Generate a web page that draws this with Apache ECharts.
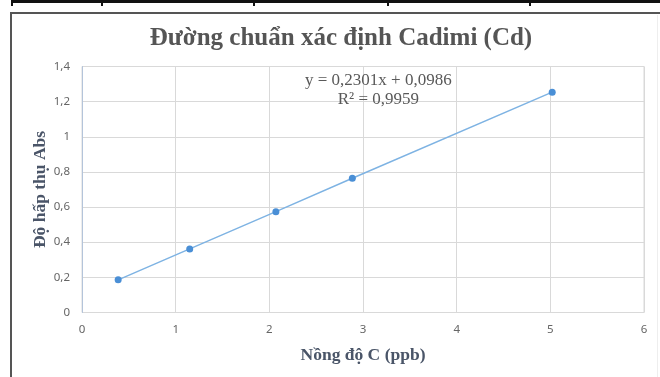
<!DOCTYPE html>
<html>
<head>
<meta charset="utf-8">
<script src="https://cdn.jsdelivr.net/npm/echarts@6/dist/echarts.min.js"></script>
<style>
html,body{margin:0;padding:0;background:#fff;}
#c{width:660px;height:377px;}
</style>
</head>
<body>
<div id="c"></div>
<script>
var concentrations = [0.386, 1.15, 2.07, 2.886, 5.02];
var absorbances = [0.186, 0.362, 0.574, 0.764, 1.254];
var xTicks = [0, 1, 2, 3, 4, 5, 6];
var yTicks = [0, 0.2, 0.4, 0.6, 0.8, 1, 1.2, 1.4];
var titleText = 'Đường chuẩn xác định Cadimi (Cd)';
var xName = 'Nồng độ C (ppb)';
var yName = 'Độ hấp thụ Abs';
var equationLines = ['y = 0,2301x + 0,0986', 'R² = 0,9959'];

var points = concentrations.map(function (x, i) { return [x, absorbances[i]]; });
function comma(v) { return String(v).replace('.', ','); }

var chart = echarts.init(document.getElementById('c'), null, {renderer: 'canvas'});
chart.setOption({
  backgroundColor: '#ffffff',
  animation: false,
  title: {
    text: titleText,
    left: 336, top: 21, textAlign: 'center',
    textStyle: {fontFamily: 'Liberation Serif', fontWeight: 'bold', fontSize: 25, color: '#555555'}
  },
  grid: {left: 82, right: 16, top: 66.5, bottom: 64.5, show: true, borderColor: '#d9d9d9', borderWidth: 1, containLabel: false},
  xAxis: {
    type: 'value', min: xTicks[0], max: xTicks[xTicks.length - 1], interval: 1,
    name: xName, nameLocation: 'middle', nameGap: 34,
    nameTextStyle: {fontFamily: 'Liberation Serif', fontWeight: 'bold', fontSize: 17.5, color: '#4a5568'},
    axisLine: {show: false}, axisTick: {show: false},
    axisLabel: {margin: 11, fontFamily: 'Noto Sans', fontSize: 11.5, color: '#666666', formatter: comma},
    splitLine: {show: true, lineStyle: {color: '#d9d9d9', width: 1}}
  },
  yAxis: {
    type: 'value', min: yTicks[0], max: yTicks[yTicks.length - 1], interval: 0.2,
    name: yName, nameLocation: 'middle', nameGap: 33, nameRotate: 90, nameMoveOverlap: false,
    nameTextStyle: {fontFamily: 'Liberation Serif', fontWeight: 'bold', fontSize: 17.5, color: '#4a5568'},
    axisLine: {show: true, lineStyle: {color: '#b4c4da', width: 1}}, axisTick: {show: false},
    axisLabel: {margin: 12, fontFamily: 'Noto Sans', fontSize: 11.5, color: '#666666', formatter: comma},
    splitLine: {show: true, lineStyle: {color: '#d9d9d9', width: 1}}
  },
  graphic: [
    {type: 'rect', shape: {x: 12, y: 0, width: 648, height: 3}, style: {fill: '#111'}, z: 10},
    {type: 'rect', shape: {x: 11, y: 0, width: 2, height: 6}, style: {fill: '#111'}, z: 10},
    {type: 'rect', shape: {x: 101, y: 0, width: 2, height: 6}, style: {fill: '#111'}, z: 10},
    {type: 'rect', shape: {x: 253, y: 0, width: 2, height: 6}, style: {fill: '#111'}, z: 10},
    {type: 'rect', shape: {x: 387, y: 0, width: 2, height: 6}, style: {fill: '#111'}, z: 10},
    {type: 'rect', shape: {x: 529, y: 0, width: 2, height: 6}, style: {fill: '#111'}, z: 10},
    {type: 'rect', shape: {x: 11, y: 13, width: 650, height: 380}, style: {fill: 'none', stroke: '#555', lineWidth: 2}, z: 10},
    {type: 'rect', shape: {x: 657, y: 15, width: 1, height: 362}, style: {fill: '#eeeeee'}, z: 10},
    {type: 'text', left: 305, top: 71, z: 10,
      style: {text: equationLines.join('\n'), textAlign: 'center', fontFamily: 'Liberation Serif', fontSize: 17, lineHeight: 19, fill: '#595959'}}
  ],
  series: [{
    type: 'line',
    data: points,
    symbol: 'circle', symbolSize: 7,
    itemStyle: {color: '#4a8fd6'},
    lineStyle: {color: '#7eb3e3', width: 1.5},
    z: 5
  }]
});
</script>
</body>
</html>
